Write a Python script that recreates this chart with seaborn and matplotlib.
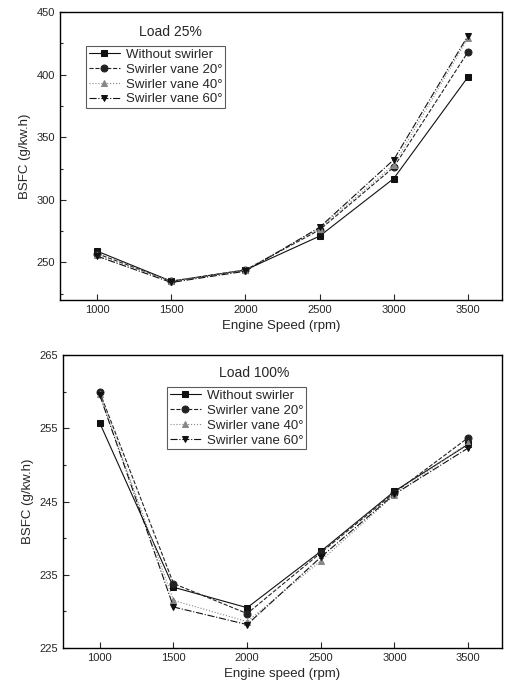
import matplotlib
matplotlib.use("Agg")
import matplotlib.pyplot as plt
import seaborn as sns
import pandas as pd
from matplotlib.ticker import MultipleLocator

speed = [1000, 1500, 2000, 2500, 3000, 3500]
series = ["Without swirler", "Swirler vane 20°", "Swirler vane 40°", "Swirler vane 60°"]

load25_without = [259, 235, 244, 271, 317, 398]
load25_v20 = [257, 235, 244, 276, 326, 418]
load25_v40 = [256, 235, 244, 277, 328, 429]
load25_v60 = [255, 234, 243, 278, 332, 431]
load25_yticks = [250, 300, 350, 400, 450]

load100_without = [255.7, 233.3, 230.5, 238.2, 246.4, 252.8]
load100_v20 = [259.9, 233.8, 229.7, 238.0, 246.2, 253.7]
load100_v40 = [259.7, 231.5, 228.6, 236.9, 245.9, 253.0]
load100_v60 = [259.5, 230.6, 228.2, 237.4, 246.0, 252.3]
load100_yticks = [225, 235, 245, 255, 265]

sns.set_style("ticks")
plt.rcParams['font.family'] = ['Liberation Sans', 'DejaVu Sans']

markers = ['s', 'o', '^', 'v']
colors = ['#111111', '#222222', '#888888', '#111111']
dashes = ['-', '--', ':', '-.']

fig = plt.figure(figsize=(5.07, 6.95), dpi=100)
ax1 = fig.add_axes([60/507, 1-300/695, 442/507, 288/695])
ax2 = fig.add_axes([63/507, 1-648/695, 439/507, 293/695])

def draw(ax, data, ylim, yticks, minor, xlabel, title, tpos, legpos):
    for name, vals, m, c, ls in zip(series, data, markers, colors, dashes):
        df = pd.DataFrame({"speed": speed, "bsfc": vals})
        sns.lineplot(data=df, x="speed", y="bsfc", ax=ax, marker=m, color=c,
                     linestyle=ls, linewidth=0.8, markersize=5,
                     markeredgecolor=c, label=name)
    ax.set_xlim(750, 3730)
    ax.set_ylim(*ylim)
    ax.set_xticks(speed)
    ax.set_yticks(yticks)
    ax.yaxis.set_minor_locator(MultipleLocator(minor))
    ax.tick_params(direction='in', labelsize=8, length=4, width=0.8)
    ax.tick_params(which='minor', direction='in', length=2.5, width=0.8)
    for s in ax.spines.values():
        s.set_linewidth(1.0)
        s.set_color('black')
    ax.set_xlabel(xlabel, fontsize=9.5)
    ax.set_ylabel("BSFC (g/kw.h)", fontsize=9.5)
    ax.text(tpos[0], tpos[1], title, transform=ax.transAxes, fontsize=10,
            ha='center', va='center')
    leg = ax.legend(loc='upper left', bbox_to_anchor=legpos, fontsize=9.5,
                    frameon=True, fancybox=False, edgecolor='#333333',
                    handlelength=2.4, handletextpad=0.4, borderpad=0.2,
                    labelspacing=0.2, borderaxespad=0)
    leg.get_frame().set_linewidth(0.8)

draw(ax1, [load25_without, load25_v20, load25_v40, load25_v60], (220, 450), load25_yticks, 25,
     "Engine Speed (rpm)", "Load 25%", (0.25, 0.93), ((86-60)/442, (300-46)/288))
draw(ax2, [load100_without, load100_v20, load100_v40, load100_v60], (225, 265), load100_yticks, 5,
     "Engine speed (rpm)", "Load 100%", (0.436, 0.94), ((167-63)/439, (648-387)/293))

fig.savefig("out.png", dpi=100)
